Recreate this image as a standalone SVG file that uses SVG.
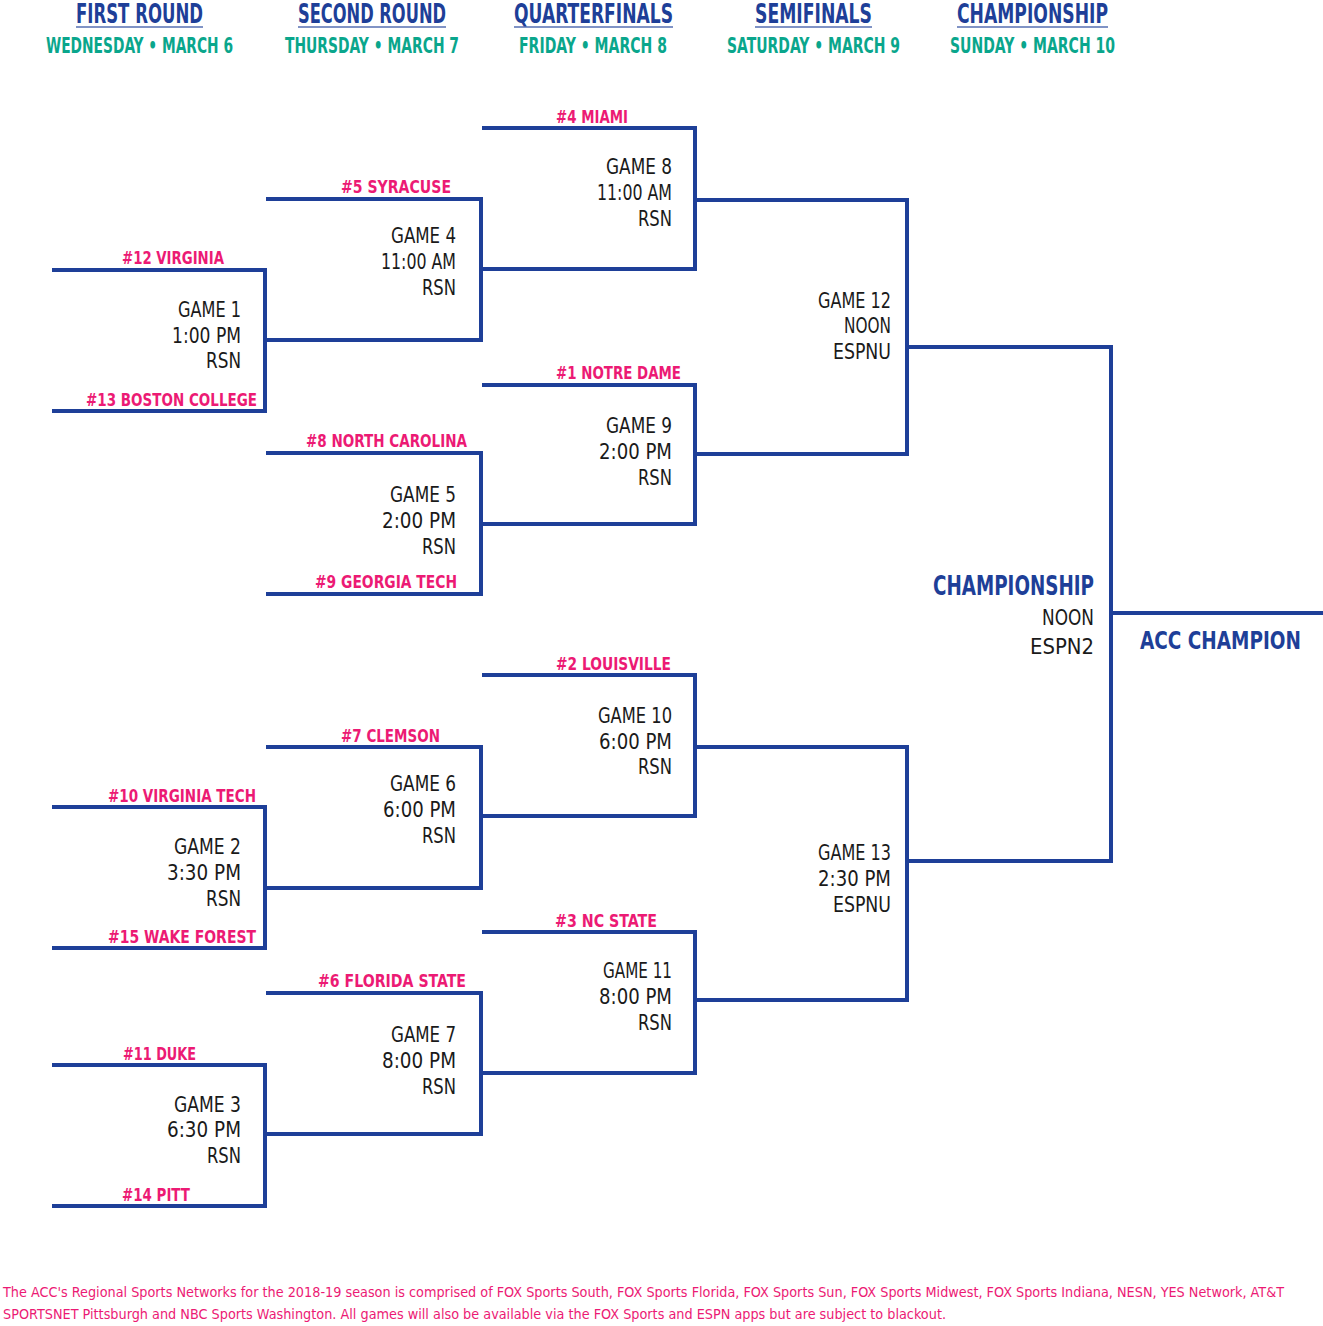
<svg xmlns="http://www.w3.org/2000/svg" width="1323" height="1326" viewBox="0 0 1323 1326">
<style>
text{font-family:"DejaVu Sans Condensed","Liberation Sans Narrow","Liberation Sans",sans-serif;}
.hd{font-size:26px;font-weight:bold;fill:#1e3f98;}
.sub{font-size:21px;font-weight:bold;fill:#0aa68c;}
.t{font-size:17px;font-weight:bold;fill:#ec1a74;}
.g{font-size:22px;fill:#1a1a1a;text-anchor:end;}
.ch{font-size:26px;font-weight:bold;fill:#1e3f98;}
.acc{font-size:20px;font-weight:bold;fill:#1e3f98;}
.ft{font-size:14.5px;fill:#ec1a74;}
.ln{fill:none;stroke:#1e3f98;stroke-width:4;stroke-linecap:butt;stroke-linejoin:miter;}
.ul{stroke:#1e3f98;stroke-width:1.6;opacity:0.75;}
</style>
<rect width="1323" height="1326" fill="#ffffff"/>

<g id="headers">
<text class="hd" x="76" y="23" textLength="127" lengthAdjust="spacingAndGlyphs">FIRST ROUND</text>
<line class="ul" x1="76" y1="27" x2="203" y2="27"/>
<text class="sub" x="46" y="53" textLength="187" lengthAdjust="spacingAndGlyphs">WEDNESDAY • MARCH 6</text>
<text class="hd" x="298" y="23" textLength="148" lengthAdjust="spacingAndGlyphs">SECOND ROUND</text>
<line class="ul" x1="298" y1="27" x2="446" y2="27"/>
<text class="sub" x="285" y="53" textLength="174" lengthAdjust="spacingAndGlyphs">THURSDAY • MARCH 7</text>
<text class="hd" x="514" y="23" textLength="159" lengthAdjust="spacingAndGlyphs">QUARTERFINALS</text>
<line class="ul" x1="514" y1="27" x2="673" y2="27"/>
<text class="sub" x="519" y="53" textLength="148" lengthAdjust="spacingAndGlyphs">FRIDAY • MARCH 8</text>
<text class="hd" x="755" y="23" textLength="117" lengthAdjust="spacingAndGlyphs">SEMIFINALS</text>
<line class="ul" x1="755" y1="27" x2="872" y2="27"/>
<text class="sub" x="727" y="53" textLength="173" lengthAdjust="spacingAndGlyphs">SATURDAY • MARCH 9</text>
<text class="hd" x="957" y="23" textLength="151" lengthAdjust="spacingAndGlyphs">CHAMPIONSHIP</text>
<line class="ul" x1="957" y1="27" x2="1108" y2="27"/>
<text class="sub" x="950" y="53" textLength="165" lengthAdjust="spacingAndGlyphs">SUNDAY • MARCH 10</text>
</g>

<g id="connectors">
<path class="ln" d="M52 270 H265 V411 H52"/>
<path class="ln" d="M52 807 H265 V948 H52"/>
<path class="ln" d="M52 1065 H265 V1206 H52"/>
<path class="ln" d="M266 199 H481 V340 H265"/>
<path class="ln" d="M266 453 H481 V594 H266"/>
<path class="ln" d="M266 747 H481 V888 H265"/>
<path class="ln" d="M266 993 H481 V1134 H265"/>
<path class="ln" d="M482 128 H695 V269 H481"/>
<path class="ln" d="M482 385 H695 V524 H481"/>
<path class="ln" d="M482 675 H695 V816 H481"/>
<path class="ln" d="M482 932 H695 V1073 H481"/>
<path class="ln" d="M695 200 H907 V454 H695"/>
<path class="ln" d="M695 747 H907 V1000 H695"/>
<path class="ln" d="M907 347 H1111 V861 H907"/>
<path class="ln" d="M1111 613 H1323"/>
</g>

<g id="game1">
<text class="t" x="122" y="264" textLength="102" lengthAdjust="spacingAndGlyphs">#12 VIRGINIA</text>
<text class="t" x="86" y="406" textLength="171" lengthAdjust="spacingAndGlyphs">#13 BOSTON COLLEGE</text>
<text class="g" x="241" y="317" textLength="63" lengthAdjust="spacingAndGlyphs">GAME 1</text>
<text class="g" x="241" y="343" textLength="69" lengthAdjust="spacingAndGlyphs">1:00 PM</text>
<text class="g" x="241" y="368" textLength="35" lengthAdjust="spacingAndGlyphs">RSN</text>
</g>

<g id="game2">
<text class="t" x="108" y="802" textLength="148" lengthAdjust="spacingAndGlyphs">#10 VIRGINIA TECH</text>
<text class="t" x="108" y="943" textLength="148" lengthAdjust="spacingAndGlyphs">#15 WAKE FOREST</text>
<text class="g" x="241" y="854" textLength="67" lengthAdjust="spacingAndGlyphs">GAME 2</text>
<text class="g" x="241" y="880" textLength="74" lengthAdjust="spacingAndGlyphs">3:30 PM</text>
<text class="g" x="241" y="906" textLength="35" lengthAdjust="spacingAndGlyphs">RSN</text>
</g>

<g id="game3">
<text class="t" x="123" y="1060" textLength="73" lengthAdjust="spacingAndGlyphs">#11 DUKE</text>
<text class="t" x="122" y="1201" textLength="68" lengthAdjust="spacingAndGlyphs">#14 PITT</text>
<text class="g" x="241" y="1112" textLength="67" lengthAdjust="spacingAndGlyphs">GAME 3</text>
<text class="g" x="241" y="1137" textLength="74" lengthAdjust="spacingAndGlyphs">6:30 PM</text>
<text class="g" x="241" y="1163" textLength="34" lengthAdjust="spacingAndGlyphs">RSN</text>
</g>

<g id="game4">
<text class="t" x="341" y="193" textLength="110" lengthAdjust="spacingAndGlyphs">#5 SYRACUSE</text>
<text class="g" x="456" y="243" textLength="65" lengthAdjust="spacingAndGlyphs">GAME 4</text>
<text class="g" x="456" y="269" textLength="75" lengthAdjust="spacingAndGlyphs">11:00 AM</text>
<text class="g" x="456" y="295" textLength="34" lengthAdjust="spacingAndGlyphs">RSN</text>
</g>

<g id="game5">
<text class="t" x="306" y="447" textLength="161" lengthAdjust="spacingAndGlyphs">#8 NORTH CAROLINA</text>
<text class="t" x="315" y="588" textLength="142" lengthAdjust="spacingAndGlyphs">#9 GEORGIA TECH</text>
<text class="g" x="456" y="502" textLength="66" lengthAdjust="spacingAndGlyphs">GAME 5</text>
<text class="g" x="456" y="528" textLength="74" lengthAdjust="spacingAndGlyphs">2:00 PM</text>
<text class="g" x="456" y="554" textLength="34" lengthAdjust="spacingAndGlyphs">RSN</text>
</g>

<g id="game6">
<text class="t" x="341" y="742" textLength="99" lengthAdjust="spacingAndGlyphs">#7 CLEMSON</text>
<text class="g" x="456" y="791" textLength="66" lengthAdjust="spacingAndGlyphs">GAME 6</text>
<text class="g" x="456" y="817" textLength="73" lengthAdjust="spacingAndGlyphs">6:00 PM</text>
<text class="g" x="456" y="843" textLength="34" lengthAdjust="spacingAndGlyphs">RSN</text>
</g>

<g id="game7">
<text class="t" x="318" y="987" textLength="148" lengthAdjust="spacingAndGlyphs">#6 FLORIDA STATE</text>
<text class="g" x="456" y="1042" textLength="65" lengthAdjust="spacingAndGlyphs">GAME 7</text>
<text class="g" x="456" y="1068" textLength="74" lengthAdjust="spacingAndGlyphs">8:00 PM</text>
<text class="g" x="456" y="1094" textLength="34" lengthAdjust="spacingAndGlyphs">RSN</text>
</g>

<g id="game8">
<text class="t" x="556" y="123" textLength="72" lengthAdjust="spacingAndGlyphs">#4 MIAMI</text>
<text class="g" x="672" y="174" textLength="66" lengthAdjust="spacingAndGlyphs">GAME 8</text>
<text class="g" x="672" y="200" textLength="75" lengthAdjust="spacingAndGlyphs">11:00 AM</text>
<text class="g" x="672" y="226" textLength="34" lengthAdjust="spacingAndGlyphs">RSN</text>
</g>

<g id="game9">
<text class="t" x="556" y="379" textLength="125" lengthAdjust="spacingAndGlyphs">#1 NOTRE DAME</text>
<text class="g" x="672" y="433" textLength="66" lengthAdjust="spacingAndGlyphs">GAME 9</text>
<text class="g" x="672" y="459" textLength="73" lengthAdjust="spacingAndGlyphs">2:00 PM</text>
<text class="g" x="672" y="485" textLength="34" lengthAdjust="spacingAndGlyphs">RSN</text>
</g>

<g id="game10">
<text class="t" x="556" y="670" textLength="115" lengthAdjust="spacingAndGlyphs">#2 LOUISVILLE</text>
<text class="g" x="672" y="723" textLength="74" lengthAdjust="spacingAndGlyphs">GAME 10</text>
<text class="g" x="672" y="749" textLength="73" lengthAdjust="spacingAndGlyphs">6:00 PM</text>
<text class="g" x="672" y="774" textLength="34" lengthAdjust="spacingAndGlyphs">RSN</text>
</g>

<g id="game11">
<text class="t" x="555" y="927" textLength="102" lengthAdjust="spacingAndGlyphs">#3 NC STATE</text>
<text class="g" x="672" y="978" textLength="69" lengthAdjust="spacingAndGlyphs">GAME 11</text>
<text class="g" x="672" y="1004" textLength="73" lengthAdjust="spacingAndGlyphs">8:00 PM</text>
<text class="g" x="672" y="1030" textLength="34" lengthAdjust="spacingAndGlyphs">RSN</text>
</g>

<g id="game12">
<text class="g" x="891" y="308" textLength="73" lengthAdjust="spacingAndGlyphs">GAME 12</text>
<text class="g" x="891" y="333" textLength="47" lengthAdjust="spacingAndGlyphs">NOON</text>
<text class="g" x="891" y="359" textLength="58" lengthAdjust="spacingAndGlyphs">ESPNU</text>
</g>

<g id="game13">
<text class="g" x="891" y="860" textLength="73" lengthAdjust="spacingAndGlyphs">GAME 13</text>
<text class="g" x="891" y="886" textLength="73" lengthAdjust="spacingAndGlyphs">2:30 PM</text>
<text class="g" x="891" y="912" textLength="58" lengthAdjust="spacingAndGlyphs">ESPNU</text>
</g>

<g id="championship">
<text class="ch" x="933" y="595" textLength="161" lengthAdjust="spacingAndGlyphs">CHAMPIONSHIP</text>
<text class="g" x="1094" y="625" textLength="52" lengthAdjust="spacingAndGlyphs">NOON</text>
<text class="g" x="1094" y="654" textLength="64" lengthAdjust="spacingAndGlyphs">ESPN2</text>
</g>

<g id="champion" transform="translate(1140 649) scale(1 1.25)">
<text class="acc" x="0" y="0" textLength="161" lengthAdjust="spacingAndGlyphs">ACC CHAMPION</text>
</g>

<g id="footer">
<text class="ft" x="3" y="1297" textLength="1281" lengthAdjust="spacingAndGlyphs">The ACC's Regional Sports Networks for the 2018-19 season is comprised of FOX Sports South, FOX Sports Florida, FOX Sports Sun, FOX Sports Midwest, FOX Sports Indiana, NESN, YES Network, AT&amp;T</text>
<text class="ft" x="3" y="1319" textLength="943" lengthAdjust="spacingAndGlyphs">SPORTSNET Pittsburgh and NBC Sports Washington. All games will also be available via the FOX Sports and ESPN apps but are subject to blackout.</text>
</g>
</svg>
